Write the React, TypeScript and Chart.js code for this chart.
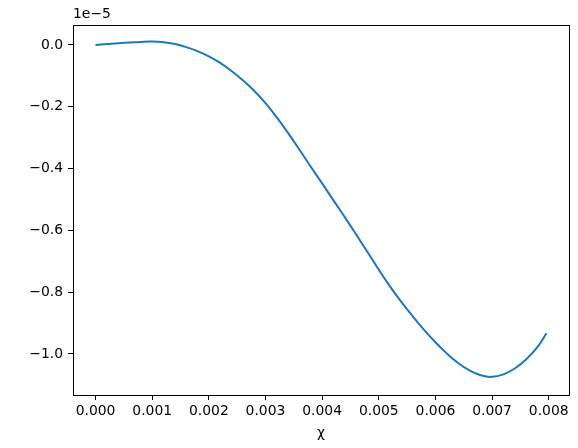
import React, { useEffect, useRef } from "react";
import { Chart, registerables } from "chart.js";

Chart.register(...registerables);

// x values (chi)
const chiValues = [
  0, 0.0002, 0.0004, 0.0006, 0.0008, 0.001, 0.0012, 0.0014, 0.0016, 0.0018,
  0.002, 0.0022, 0.0024, 0.0026, 0.0028, 0.003, 0.0032, 0.0034, 0.0036,
  0.0038, 0.004, 0.0042, 0.0044, 0.0046, 0.0048, 0.005, 0.0052, 0.0054,
  0.0056, 0.0058, 0.006, 0.0062, 0.0064, 0.0066, 0.0068, 0.007, 0.0072,
  0.0074, 0.0076, 0.0078, 0.00796,
];
// y values in units of 1e-5
const yValues = [
  0, 0.003, 0.006, 0.008, 0.010, 0.011, 0.009, 0.003, -0.007, -0.020,
  -0.037, -0.058, -0.084, -0.114, -0.148, -0.188, -0.234, -0.285, -0.339,
  -0.394, -0.448, -0.503, -0.557, -0.613, -0.670, -0.727, -0.782, -0.832,
  -0.878, -0.922, -0.962, -0.998, -1.029, -1.053, -1.069, -1.074, -1.066,
  -1.047, -1.018, -0.978, -0.933,
];
const yExponentLabel = "1e\u22125";
const xTicks = [0, 0.001, 0.002, 0.003, 0.004, 0.005, 0.006, 0.007, 0.008];
const yTicks = [0, -0.2, -0.4, -0.6, -0.8, -1.0];
const xTitle = "\u03c7";

const FONT = "'DejaVu Sans', sans-serif";

export default function App() {
  const ref = useRef<HTMLCanvasElement | null>(null);
  useEffect(() => {
    if (!ref.current) return;
    const framePlugin = {
      id: "frame",
      afterDraw(chart: any) {
        const { ctx, chartArea } = chart;
        ctx.save();
        ctx.strokeStyle = "#000";
        ctx.lineWidth = 1;
        ctx.strokeRect(
          Math.round(chartArea.left) + 0.5,
          Math.round(chartArea.top) + 0.5,
          Math.round(chartArea.right - chartArea.left),
          Math.round(chartArea.bottom - chartArea.top)
        );
        ctx.fillStyle = "#000";
        ctx.font = "13.9px " + FONT;
        ctx.textAlign = "left";
        ctx.textBaseline = "bottom";
        ctx.fillText(yExponentLabel, chartArea.left, chartArea.top - 4);
        ctx.restore();
      },
    };
    const chart = new Chart(ref.current, {
      type: "line",
      data: {
        datasets: [
          {
            data: chiValues.map((x, i) => ({ x, y: yValues[i] })),
            borderColor: "#1f77b4",
            borderWidth: 2,
            pointRadius: 0,
            fill: false,
            tension: 0.4,
          },
        ],
      },
      options: {
        animation: false,
        responsive: false,
        events: [],
        layout: { padding: { left: 0, right: 9, top: 25, bottom: 0 } },
        plugins: { legend: { display: false }, tooltip: { enabled: false } },
        scales: {
          x: {
            type: "linear",
            min: -0.000398,
            max: 0.008358,
            afterBuildTicks: (s: any) => {
              s.ticks = xTicks.map((v) => ({ value: v }));
            },
            afterFit: (s: any) => {
              s.height = 53;
            },
            grid: {
              drawOnChartArea: false,
              drawTicks: true,
              tickLength: 5,
              color: "#000",
            },
            border: { display: true, color: "#000" },
            ticks: {
              color: "#000",
              font: { family: FONT, size: 13.9 },
              padding: 3,
              maxRotation: 0,
              autoSkip: false,
              callback: (v: any) => Number(v).toFixed(3),
            },
            title: {
              display: true,
              text: xTitle,
              color: "#000",
              font: { family: FONT, size: 13.9 },
              padding: { top: 2, bottom: 6 },
            },
          },
          y: {
            type: "linear",
            min: -1.1327,
            max: 0.0647,
            afterBuildTicks: (s: any) => {
              s.ticks = yTicks.map((v) => ({ value: v }));
            },
            afterFit: (s: any) => {
              s.width = 73;
            },
            grid: {
              drawOnChartArea: false,
              drawTicks: true,
              tickLength: 5,
              color: "#000",
            },
            border: { display: true, color: "#000" },
            ticks: {
              color: "#000",
              font: { family: FONT, size: 13.9 },
              padding: 5,
              autoSkip: false,
              callback: (v: any) => Number(v).toFixed(1).replace("-", "\u2212"),
            },
          },
        },
      },
      plugins: [framePlugin],
    } as any);
    return () => chart.destroy();
  }, []);
  return (
    <div style={{ position: "fixed", left: 0, top: 0, width: 578, height: 448, background: "#fff" }}>
      <canvas ref={ref} width={578} height={448} style={{ display: "block" }} />
    </div>
  );
}
